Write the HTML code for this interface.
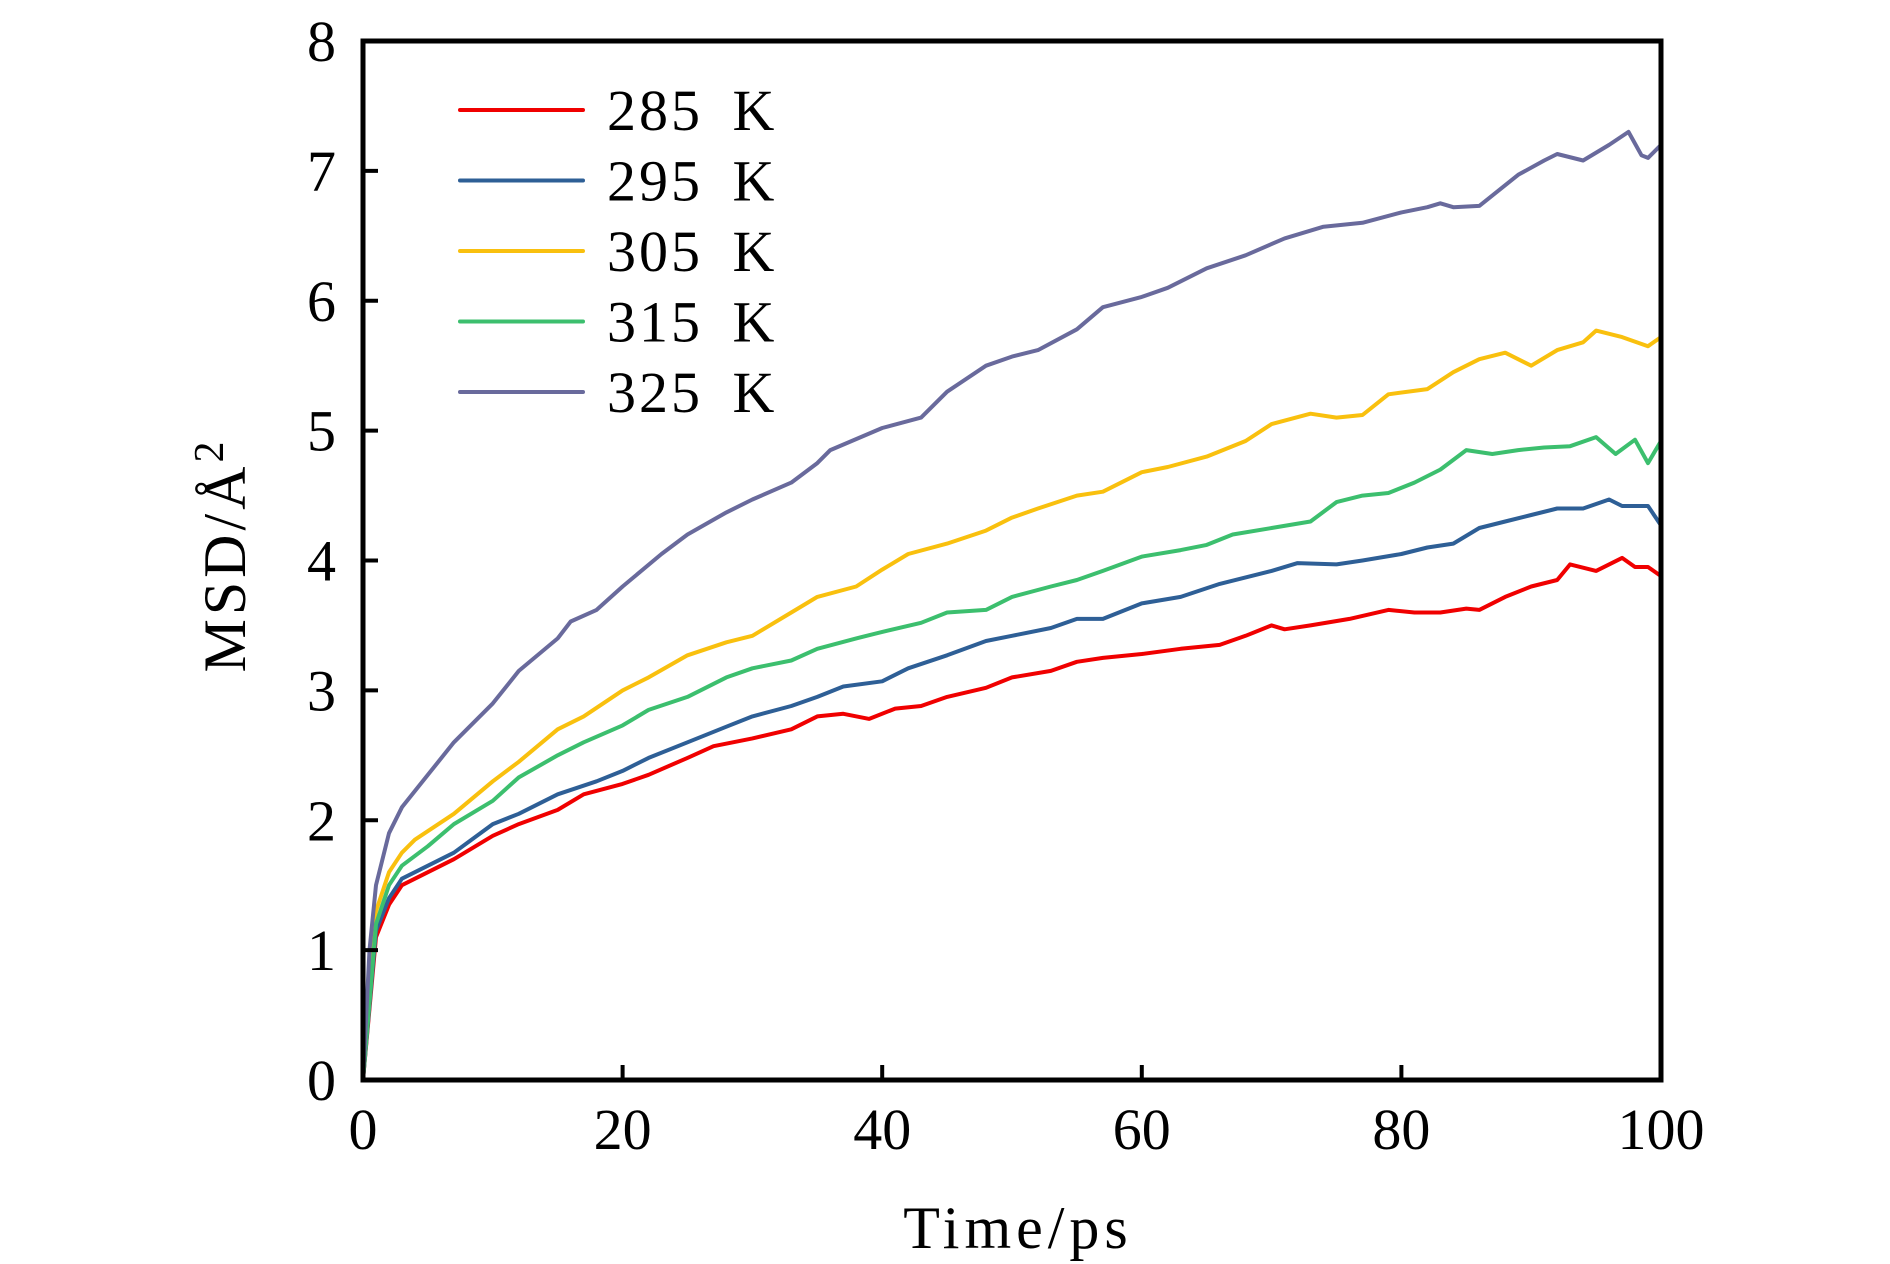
<!DOCTYPE html>
<html><head><meta charset="utf-8"><style>
html,body{margin:0;padding:0;background:#fff;width:1890px;height:1264px;overflow:hidden}
svg{display:block}
text{font-family:"Liberation Serif",serif;fill:#000}
</style></head><body>
<svg id="chart" width="1890" height="1264" viewBox="0 0 1890 1264" xmlns="http://www.w3.org/2000/svg">
<g id="marks"></g>
<rect x="363" y="41" width="1298" height="1039" fill="none" stroke="#000" stroke-width="5"/>
<g id="axes"></g>
<text transform="translate(245,555) rotate(-90)" text-anchor="middle" font-size="60" letter-spacing="4">MSD/Å<tspan dy="-22" font-size="42">2</tspan></text>
<text x="1018" y="1248" text-anchor="middle" font-size="60" letter-spacing="5">Time/ps</text>
<g id="legend"></g>
</svg>
<script>
const xTicks=[0,20,40,60,80,100];
const yTicks=[0,1,2,3,4,5,6,7,8];
const seriesNames=["285 K","295 K","305 K","315 K","325 K"];
const seriesColors=["#f00000","#2e5f96","#f9c00e","#3cbf6e","#696a9c"];
const t285=[0,1,2,3,5,7,10,12,15,17,20,22,25,27,30,33,35,37,39,41,43,45,48,50,53,55,57,60,63,66,68,70,71,73,76,79,81,83,85,86,88,90,92,93,95,97,98,99,100];
const v285=[0,1.1,1.35,1.5,1.6,1.7,1.88,1.97,2.08,2.2,2.28,2.35,2.48,2.57,2.63,2.7,2.8,2.82,2.78,2.86,2.88,2.95,3.02,3.1,3.15,3.22,3.25,3.28,3.32,3.35,3.42,3.5,3.47,3.5,3.55,3.62,3.6,3.6,3.63,3.62,3.72,3.8,3.85,3.97,3.92,4.02,3.95,3.95,3.88];
const t295=[0,1,2,3,5,7,10,12,15,18,20,22,25,28,30,33,35,37,40,42,45,48,50,53,55,57,60,63,66,68,70,72,75,77,80,82,84,86,88,90,92,94,96,97,99,100];
const v295=[0,1.15,1.4,1.55,1.65,1.75,1.97,2.05,2.2,2.3,2.38,2.48,2.6,2.72,2.8,2.88,2.95,3.03,3.07,3.17,3.27,3.38,3.42,3.48,3.55,3.55,3.67,3.72,3.82,3.87,3.92,3.98,3.97,4.0,4.05,4.1,4.13,4.25,4.3,4.35,4.4,4.4,4.47,4.42,4.42,4.27];
const t305=[0,0.5,1,2,3,4,7,10,12,15,17,20,22,25,28,30,33,35,38,40,42,45,48,50,52,55,57,60,62,65,68,70,73,75,77,79,82,84,86,88,90,92,94,95,97,99,100];
const v305=[0,0.9,1.3,1.6,1.75,1.85,2.05,2.3,2.45,2.7,2.8,3.0,3.1,3.27,3.37,3.42,3.6,3.72,3.8,3.93,4.05,4.13,4.23,4.33,4.4,4.5,4.53,4.68,4.72,4.8,4.92,5.05,5.13,5.1,5.12,5.28,5.32,5.45,5.55,5.6,5.5,5.62,5.68,5.77,5.72,5.65,5.72];
const t315=[0,1,2,3,5,7,10,12,15,17,20,22,25,28,30,33,35,38,40,43,45,48,50,53,55,57,60,63,65,67,70,73,75,77,79,81,83,85,87,89,91,93,95,96.5,98,99,100];
const v315=[0,1.2,1.5,1.65,1.8,1.97,2.15,2.33,2.5,2.6,2.73,2.85,2.95,3.1,3.17,3.23,3.32,3.4,3.45,3.52,3.6,3.62,3.72,3.8,3.85,3.92,4.03,4.08,4.12,4.2,4.25,4.3,4.45,4.5,4.52,4.6,4.7,4.85,4.82,4.85,4.87,4.88,4.95,4.82,4.93,4.75,4.92];
const t325=[0,0.5,1,2,3,5,7,10,12,15,16,18,20,23,25,28,30,33,35,36,40,43,45,48,50,52,55,57,60,62,65,68,71,74,77,80,82,83,84,86,89,91,92,94,96,97.5,98.5,99,100];
const v325=[0,1.0,1.5,1.9,2.1,2.35,2.6,2.9,3.15,3.4,3.53,3.62,3.8,4.05,4.2,4.37,4.47,4.6,4.75,4.85,5.02,5.1,5.3,5.5,5.57,5.62,5.78,5.95,6.03,6.1,6.25,6.35,6.48,6.57,6.6,6.68,6.72,6.75,6.72,6.73,6.97,7.08,7.13,7.08,7.2,7.3,7.12,7.1,7.2];
const seriesT=[t285,t295,t305,t315,t325];
const seriesV=[v285,v295,v305,v315,v325];

const NS="http://www.w3.org/2000/svg";
const X0=363,X1=1661,Y0=1080,Y1=41;
function sx(v){return X0+(v-0)/(100-0)*(X1-X0);}
function sy(v){return Y0-(v-0)/(8-0)*(Y0-Y1);}
const marks=document.getElementById('marks'),axes=document.getElementById('axes'),legend=document.getElementById('legend');
for(let s=0;s<seriesT.length;s++){
  const p=document.createElementNS(NS,'path');
  let d='';
  seriesT[s].forEach((t,i)=>{d+=(i?'L':'M')+sx(t).toFixed(1)+','+sy(seriesV[s][i]).toFixed(1);});
  p.setAttribute('d',d);p.setAttribute('fill','none');p.setAttribute('stroke',seriesColors[s]);
  p.setAttribute('stroke-width','4');p.setAttribute('stroke-linejoin','round');
  
  
  marks.appendChild(p);
}
xTicks.forEach(v=>{
  const l=document.createElementNS(NS,'line');
  l.setAttribute('x1',sx(v));l.setAttribute('x2',sx(v));l.setAttribute('y1',Y0);l.setAttribute('y2',Y0-15);
  l.setAttribute('stroke','#000');l.setAttribute('stroke-width','4');
  
  
  axes.appendChild(l);
  const t=document.createElementNS(NS,'text');
  t.setAttribute('x',sx(v));t.setAttribute('y',1149);t.setAttribute('text-anchor','middle');t.setAttribute('font-size','58');
  t.textContent=v;
  
  
  axes.appendChild(t);
});
yTicks.forEach(v=>{
  const l=document.createElementNS(NS,'line');
  l.setAttribute('x1',X0);l.setAttribute('x2',X0+15);l.setAttribute('y1',sy(v));l.setAttribute('y2',sy(v));
  l.setAttribute('stroke','#000');l.setAttribute('stroke-width','4');
  
  
  axes.appendChild(l);
  const t=document.createElementNS(NS,'text');
  t.setAttribute('x',336);t.setAttribute('y',sy(v)+20);t.setAttribute('text-anchor','end');t.setAttribute('font-size','58');
  t.textContent=v;
  
  
  axes.appendChild(t);
});
seriesNames.forEach((n,i)=>{
  const y=110+i*70.5;
  const g=document.createElementNS(NS,'g');
  
  
  const l=document.createElementNS(NS,'line');
  l.setAttribute('x1',460);l.setAttribute('x2',583);l.setAttribute('y1',y);l.setAttribute('y2',y);
  l.setAttribute('stroke',seriesColors[i]);l.setAttribute('stroke-width','4');l.setAttribute('stroke-linecap','round');
  g.appendChild(l);
  const t=document.createElementNS(NS,'text');
  t.setAttribute('x',607);t.setAttribute('y',y+20);t.setAttribute('font-size','58');
  t.setAttribute('letter-spacing','3');t.setAttribute('word-spacing','12');
  t.textContent=n;
  g.appendChild(t);
  legend.appendChild(g);
});
</script>
</body></html>
